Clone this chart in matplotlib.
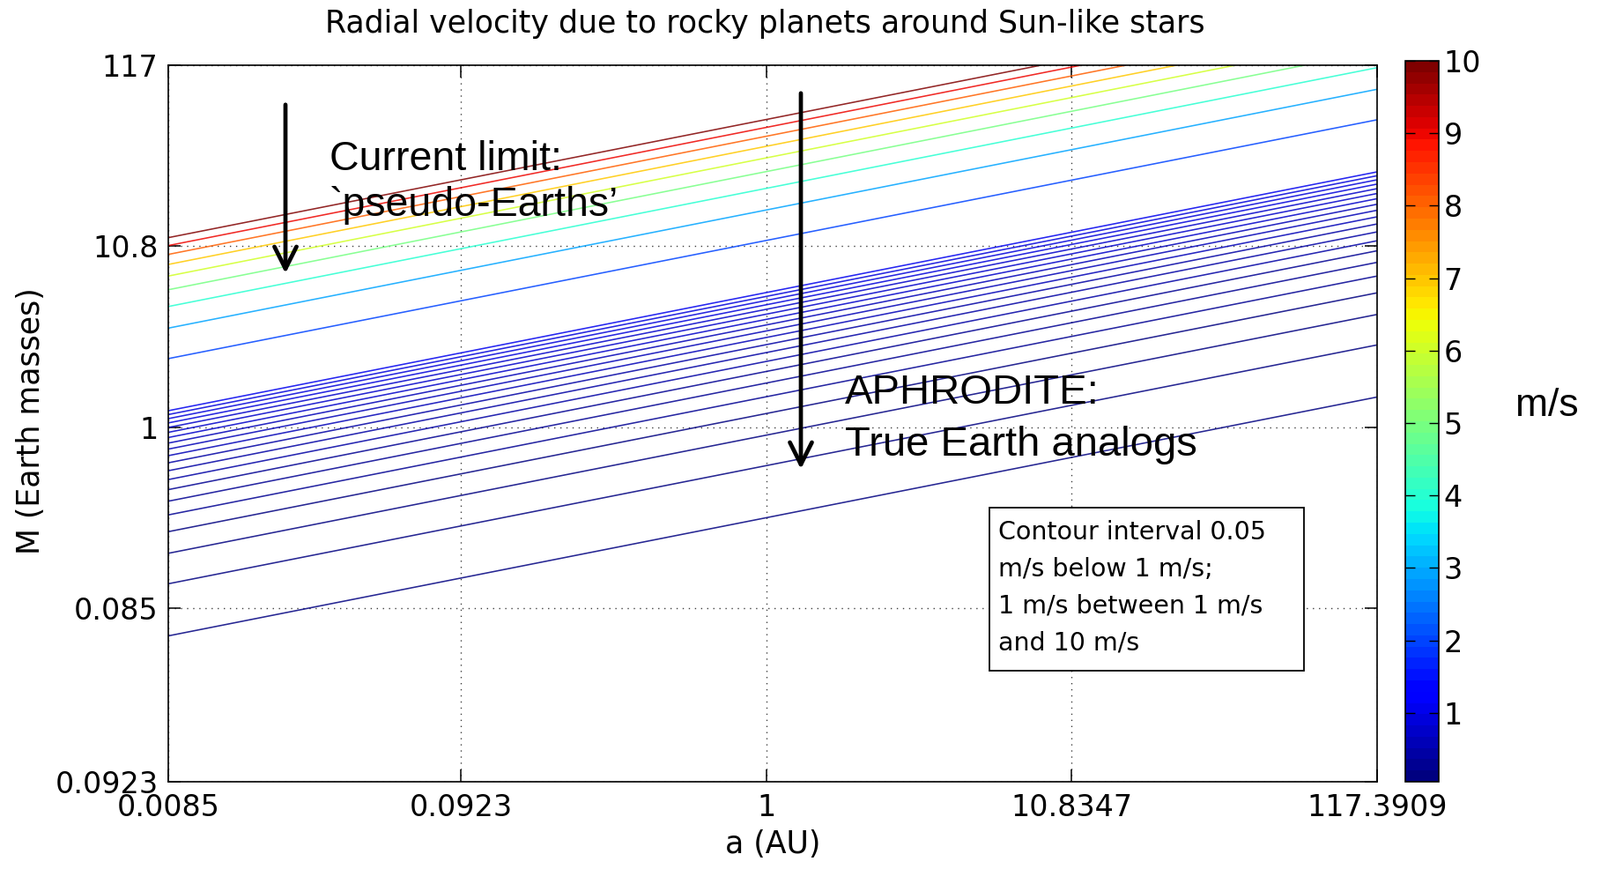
import numpy as np
import matplotlib
matplotlib.use("Agg")
import matplotlib.pyplot as plt
from matplotlib.colors import Normalize
from matplotlib.cm import ScalarMappable
from matplotlib.patches import FancyArrowPatch, Rectangle
from matplotlib.ticker import FixedLocator, FixedFormatter, NullLocator

# ---------------- data ----------------
A_RANGE = [0.0085, 117.3909]          # a (AU), plotted on a 100-point log grid
M_RANGE = [0.0085, 117.3909]          # M (Earth masses), same log grid
N_GRID = 100
TICK_INDEX = [1, 25, 50, 75, 100]     # MATLAB-style tick positions on the grid
X_TICK_LABELS = ["0.0085", "0.0923", "1", "10.8347", "117.3909"]
Y_TICK_LABELS = ["0.0923", "0.085", "1", "10.8", "117"]

LEVELS_BELOW_1 = [0.05, 0.10, 0.15, 0.20, 0.25, 0.30, 0.35, 0.40, 0.45, 0.50,
                  0.55, 0.60, 0.65, 0.70, 0.75, 0.80, 0.85, 0.90, 0.95, 1.00]
LEVELS_ABOVE_1 = [2, 3, 4, 5, 6, 7, 8, 9, 10]
CBAR_TICKS = [1, 2, 3, 4, 5, 6, 7, 8, 9, 10]
CBAR_RANGE = [0.05, 10]

RV_COEFF = 0.1725        # m/s per Earth mass
A_EXPONENT = 1.0 / 3.0   # contour slope

TITLE = "Radial velocity due to rocky planets around Sun-like stars"
XLABEL = "a (AU)"
YLABEL = "M (Earth masses)"
BOX_LINES = ["Contour interval 0.05", "m/s below 1 m/s;",
             "1 m/s between 1 m/s", "and 10 m/s"]

# ---------------- figure ----------------
W, H = 1816, 986
fig = plt.figure(figsize=(W / 100, H / 100), dpi=100)
fig.patch.set_facecolor("white")

def fx(px):
    return px / W

def fy(py):
    return 1 - py / H

MATLAB_FONT = "DejaVu Sans"
PPT_FONT = ["Liberation Sans", "DejaVu Sans"]

ax_l, ax_r, ax_t, ax_b = 190.7, 1562.7, 74, 887
ax = fig.add_axes([fx(ax_l), fy(ax_b), (ax_r - ax_l) / W, (ax_b - ax_t) / H])

a_grid = np.logspace(np.log10(A_RANGE[0]), np.log10(A_RANGE[1]), N_GRID)
m_grid = np.logspace(np.log10(M_RANGE[0]), np.log10(M_RANGE[1]), N_GRID)
a_fine = np.logspace(np.log10(A_RANGE[0]), np.log10(A_RANGE[1]), 500)
m_fine = np.logspace(np.log10(M_RANGE[0]), np.log10(M_RANGE[1]), 500)
AA, MM = np.meshgrid(a_fine, m_fine)
K = RV_COEFF * MM * AA ** (-A_EXPONENT)

levels = sorted(set(LEVELS_BELOW_1 + LEVELS_ABOVE_1))
cmap = plt.get_cmap("jet", 64)
norm = Normalize(vmin=CBAR_RANGE[0], vmax=CBAR_RANGE[1])

ax.set_xscale("log")
ax.set_yscale("log")
ax.contour(AA, MM, K, levels=levels, cmap=cmap, norm=norm,
           linewidths=1.15, alpha=0.85)
ax.set_xlim(A_RANGE[0], A_RANGE[1])
ax.set_ylim(M_RANGE[0], M_RANGE[1])

x_ticks = [a_grid[i - 1] for i in TICK_INDEX]
y_ticks = [m_grid[i - 1] for i in TICK_INDEX]
ax.xaxis.set_major_locator(FixedLocator(x_ticks))
ax.xaxis.set_major_formatter(FixedFormatter(X_TICK_LABELS))
ax.yaxis.set_major_locator(FixedLocator(y_ticks))
ax.yaxis.set_major_formatter(FixedFormatter(Y_TICK_LABELS))
ax.xaxis.set_minor_locator(NullLocator())
ax.yaxis.set_minor_locator(NullLocator())

ax.grid(True, which="major", linestyle=(0, (1, 4)), color="k", linewidth=1.0, alpha=0.75)
ax.tick_params(which="both", direction="in", top=True, right=True,
               length=10, width=1.1, labelsize=24)
ax.tick_params(axis="x", pad=9)
ax.tick_params(axis="y", pad=8)
for lab in ax.get_xticklabels() + ax.get_yticklabels():
    lab.set_family(MATLAB_FONT)
for sp in ax.spines.values():
    sp.set_linewidth(1.2)

ax.set_title(TITLE, fontsize=25, family=MATLAB_FONT, pad=27)
ax.title.set_x((868 - ax_l) / (ax_r - ax_l))
ax.set_xlabel(XLABEL, fontsize=25, family=MATLAB_FONT)
ax.xaxis.set_label_coords(0.5, (ax_b - 941) / (ax_b - ax_t))
ax.set_ylabel(YLABEL, fontsize=25, family=MATLAB_FONT)
ax.yaxis.set_label_coords((52 - ax_l) / (ax_r - ax_l), (ax_b - 478) / (ax_b - ax_t))

# ---------------- colorbar ----------------
cax = fig.add_axes([fx(1595), fy(887), (1633 - 1595) / W, (887 - 69) / H])
sm = ScalarMappable(norm=norm, cmap=cmap)
cb = fig.colorbar(sm, cax=cax, ticks=CBAR_TICKS)
cb.ax.tick_params(direction="in", left=True, right=True, length=8, width=1.0,
                  labelsize=24, pad=4)
for lab in cb.ax.get_yticklabels():
    lab.set_family(MATLAB_FONT)
cb.outline.set_linewidth(1.2)

fig.text(fx(1756), fy(461), "m/s", fontsize=32, family=PPT_FONT,
         ha="center", va="center")

# ---------------- annotations ----------------
arrow_style = "->,head_length=1.5,head_width=0.75"
for (x0, y0, y1) in [(324, 116, 313), (909, 103, 535)]:
    arr = FancyArrowPatch((fx(x0), fy(y0)), (fx(x0), fy(y1)),
                          transform=fig.transFigure, arrowstyle=arrow_style,
                          mutation_scale=12, lw=3.4, color="k")
    fig.add_artist(arr)

fig.text(fx(374), fy(181), "Current limit:", fontsize=33.5, family=PPT_FONT,
         ha="left", va="center")
fig.text(fx(374), fy(233), "`pseudo-Earths\u2019", fontsize=33.5, family=PPT_FONT,
         ha="left", va="center")
fig.text(fx(959), fy(446), "APHRODITE:", fontsize=34, family=PPT_FONT,
         ha="left", va="center")
fig.text(fx(959), fy(505), "True Earth analogs", fontsize=34, family=PPT_FONT,
         ha="left", va="center")

box = Rectangle((fx(1123), fy(761)), (1480 - 1123) / W, (761 - 576) / H,
                transform=fig.transFigure, facecolor="white", edgecolor="k",
                linewidth=1.3, zorder=3)
fig.add_artist(box)
for i, line in enumerate(BOX_LINES):
    fig.text(fx(1133), fy(604 + 42 * i), line, fontsize=20.5, family=MATLAB_FONT,
             ha="left", va="center", zorder=4)

fig.savefig("out.png", dpi=100)
